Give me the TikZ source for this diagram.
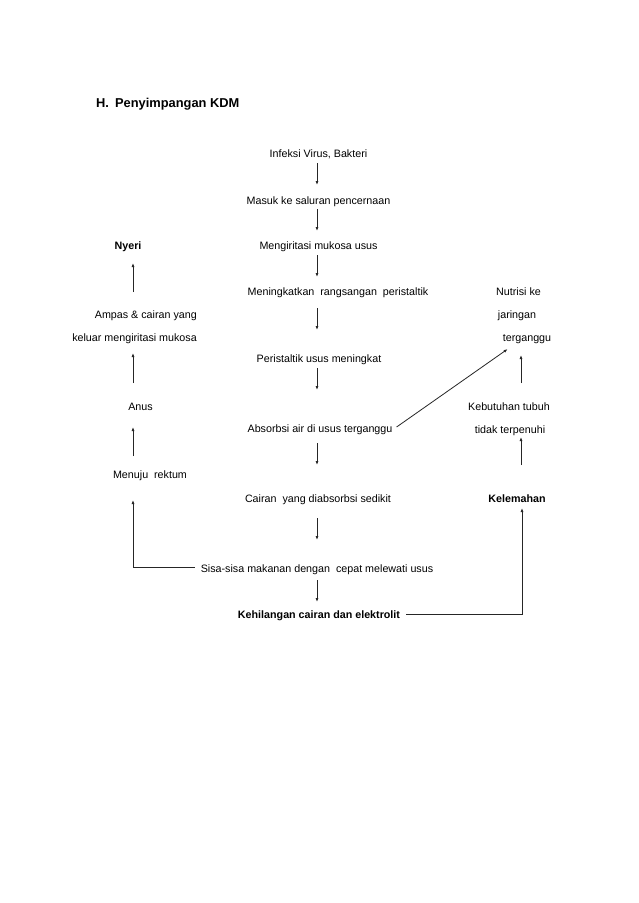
\documentclass[tikz,border=0pt]{standalone}
\usepackage{fontspec}
\setmainfont{Liberation Sans}
\usetikzlibrary{arrows.meta,calc}
\tikzset{
  txt/.style={inner sep=0pt, text height=7.7pt, text depth=0pt, font=\fontsize{10.72}{12}\selectfont},
  btxt/.style={txt, font=\fontsize{10.72}{12}\selectfont\bfseries},
  ttl/.style={inner sep=0pt, text height=9.2pt, text depth=0pt, anchor=west, font=\fontsize{12.86}{15}\selectfont\bfseries},
  arr/.style={line width=0.8pt, draw=black!85, -{Latex[length=4pt,width=3pt]}},
}
\begin{document}
\begin{tikzpicture}[x=1pt,y=-1pt]
\useasboundingbox (0,0) rectangle (638,903);
\fill[white] (0,0) rectangle (638,903);
\coordinate (ax) at (317,0);
\coordinate (lx) at (133,0);
\coordinate (rx) at (521,0);

\node[ttl] (title) at (96,103) {H.\hspace{6pt}Penyimpangan KDM};

% central column
\node[txt] (inf) at (318.5,154) {Infeksi Virus, Bakteri};
\node[txt] (mas) at (318.5,201) {Masuk ke saluran pencernaan};
\node[txt] (men) at (318.5,246) {Mengiritasi mukosa usus};
\node[txt] (mer) at (338,292) {Meningkatkan\ \ rangsangan\ \ peristaltik};
\node[txt] (per) at (319,359) {Peristaltik usus meningkat};
\node[txt] (abs) at (320,429) {Absorbsi air di usus terganggu};
\node[txt] (cai) at (318,499) {Cairan\ \ yang diabsorbsi sedikit};
\node[txt] (sis) at (317,569) {Sisa-sisa makanan dengan\ \ cepat melewati usus};
\node[btxt] (keh) at (319,615) {Kehilangan cairan dan elektrolit};

% left column
\node[btxt] (nye) at (128,246) {Nyeri};
\node[txt, anchor=east] (amp) at (197,315) {Ampas \& cairan yang};
\node[txt, anchor=east] (kel) at (197,338) {keluar mengiritasi mukosa};
\node[txt] (anu) at (140.5,407) {Anus};
\node[txt] (menu) at (150,475) {Menuju\ \ rektum};

% right column
\node[txt] (nut) at (518.5,292) {Nutrisi ke};
\node[txt] (jar) at (517,315) {jaringan};
\node[txt] (ter) at (527,338) {terganggu};
\node[txt] (keb) at (509,407) {Kebutuhan tubuh};
\node[txt] (tid) at (510,430) {tidak terpenuhi};
\node[btxt] (lem) at (517,499) {Kelemahan};

% central arrows
\draw[arr] (ax |- inf.center) ++(0,9) -- ++(0,22);
\draw[arr] (ax |- mas.center) ++(0,8) -- ++(0,22);
\draw[arr] (ax |- men.center) ++(0,9) -- ++(0,22);
\draw[arr] (ax |- mer.center) ++(0,16) -- ++(0,22);
\draw[arr] (ax |- per.center) ++(0,9) -- ++(0,22);
\draw[arr] (ax |- abs.center) ++(0,14) -- ++(0,22);
\draw[arr] (ax |- cai.center) ++(0,19) -- ++(0,22);
\draw[arr] (ax |- sis.center) ++(0,11) -- ++(0,22);

% left arrows
\draw[arr] (lx |- amp.center) ++(0,-23) -- ++(0,-29);
\draw[arr] (lx |- anu.center) ++(0,-24) -- ++(0,-30);
\draw[arr] (lx |- menu.center) ++(0,-19) -- ++(0,-29);
\draw[arr] ($(sis.west)+(-6,-2)$) -| ($(lx |- menu.center)+(0,25)$);

% right arrows
\draw[arr] (rx |- keb.center) ++(0,-24) -- ++(0,-28);
\draw[arr] (rx |- lem.center) ++(0,-34) -- ++(0,-28);
\draw[arr] ($(keh.east)+(6,-1)$) -| ($(rx |- lem.center)+(1,9)$);
\draw[arr] ($(abs.east)+(4,-2)$) -- ($(ter.south west)+(5,7)$);
\end{tikzpicture}
\end{document}
